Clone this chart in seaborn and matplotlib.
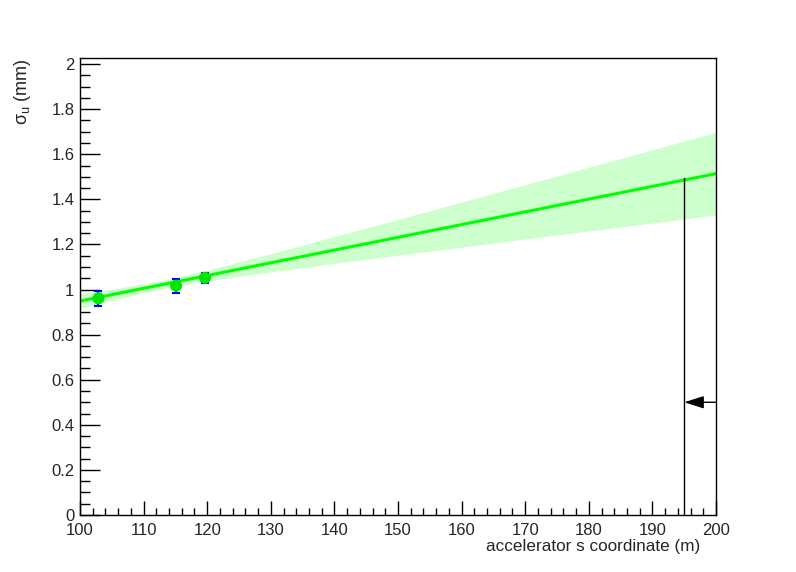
import matplotlib
matplotlib.use("Agg")
import matplotlib.pyplot as plt
import seaborn as sns
import numpy as np
import pandas as pd
from matplotlib.ticker import MultipleLocator, FuncFormatter

# ---- data ----
meas_s = [102.9, 115.1, 119.65]
meas_sigma = [0.961, 1.017, 1.052]
meas_err = [0.032, 0.031, 0.022]

fit_s = [100, 200]
fit_sigma = [0.949, 1.514]

band_s = [100, 105, 110, 115, 120, 130, 140, 150, 160, 170, 180, 190, 200]
band_lo = [0.916, 0.952, 0.986, 1.015, 1.038, 1.078, 1.116, 1.152, 1.188, 1.224, 1.260, 1.295, 1.331]
band_hi = [0.982, 1.002, 1.025, 1.053, 1.086, 1.159, 1.235, 1.311, 1.388, 1.465, 1.543, 1.620, 1.697]

limit_s = 195
limit_top = 1.494
arrow_y = 0.5
arrow_from = 200

sns.set_style("ticks")
plt.rcParams['font.family'] = ['Liberation Sans', 'DejaVu Sans']
plt.rcParams['mathtext.fontset'] = 'custom'
plt.rcParams['mathtext.rm'] = 'Liberation Sans'
plt.rcParams['mathtext.it'] = 'Liberation Sans'

fig = plt.figure(figsize=(7.96, 5.72), dpi=100)
ax = fig.add_axes([80/796, 57/572, 636/796, 457/572])

ax.fill_between(band_s, band_lo, band_hi, color='#ccffcc', lw=0, zorder=1)
fit_df = pd.DataFrame({'s': fit_s, 'sigma': fit_sigma})
sns.lineplot(data=fit_df, x='s', y='sigma', color='#00ff00', lw=2.2, ax=ax, zorder=2)

ax.errorbar(meas_s, meas_sigma, yerr=meas_err, fmt='none', ecolor='#0000ff',
            elinewidth=1.5, capsize=3, capthick=1.5, zorder=3)
meas_df = pd.DataFrame({'s': meas_s, 'sigma': meas_sigma})
sns.scatterplot(data=meas_df, x='s', y='sigma', color='#00e600', s=75,
                edgecolor='none', ax=ax, zorder=4)

ax.plot([limit_s, limit_s], [0, limit_top], color='black', lw=1.0, zorder=5)
ax.annotate("", xy=(limit_s, arrow_y), xytext=(arrow_from, arrow_y),
            arrowprops=dict(arrowstyle='-|>,head_length=1.2,head_width=0.38',
                            mutation_scale=10, color='black', lw=1.0,
                            shrinkA=0, shrinkB=0), zorder=6)

ax.set_xlim(100, 200)
ax.set_ylim(0, 2.027)

ax.xaxis.set_major_locator(MultipleLocator(10))
ax.xaxis.set_minor_locator(MultipleLocator(2))
ax.yaxis.set_major_locator(MultipleLocator(0.2))
ax.yaxis.set_minor_locator(MultipleLocator(0.05))
ax.yaxis.set_major_formatter(FuncFormatter(lambda v, p: f"{v:g}"))

ax.tick_params(axis='both', which='both', direction='in', top=False, right=False,
               labelsize=12, color='black', width=1.0)
ax.tick_params(axis='x', which='major', length=10, pad=5.5)
ax.tick_params(axis='x', which='minor', length=5)
ax.tick_params(axis='y', which='major', length=14.4, pad=4)
ax.tick_params(axis='y', which='minor', length=7.2)

for sp in ax.spines.values():
    sp.set_visible(True)
    sp.set_linewidth(1.0)
    sp.set_color('black')

ax.set_xlabel("accelerator s coordinate (m)", fontsize=12.3, loc='right')
ax.xaxis.set_label_coords(0.975, -0.052)
ax.set_ylabel(r"$\sigma_{u}$ (mm)", fontsize=13, loc='top')
ax.yaxis.set_label_coords(-0.074, 1.0)

fig.savefig("out.png", dpi=100)
